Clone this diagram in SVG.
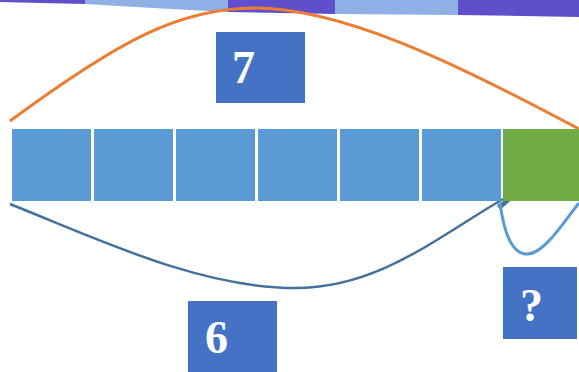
<svg xmlns="http://www.w3.org/2000/svg" width="579" height="372" viewBox="0 0 579 372">
<style>
.cell{fill:#5b9bd5}
.lbl{fill:#4472c4}
.num{font-family:"Liberation Serif","Times New Roman",serif;font-weight:bold;font-size:46px;fill:#ffffff}
.band1{fill:#5f4fcb}
.band2{fill:#8fafe5}
</style>
<g id="band">
<path class="band1" d="M0,0 L85,0 L85,4 L40,3 L0,2 Z"/>
<path class="band2" d="M85,0 L228,0 L228,12 Q150,8 85,4 Z"/>
<path class="band1" d="M228,0 L335,0 L335,14 Q280,13 228,12 Z"/>
<path class="band2" d="M335,0 L458,0 L458,15 L335,14 Z"/>
<path class="band1" d="M458,0 L579,0 L579,17 L458,15 Z"/>
</g>
<g id="connectors">
<path d="M10,121 C120,40 180,8 255,8 C340,8 450,60 579,129" fill="none" stroke="#ed7d31" stroke-width="3"/>
<path d="M10,204 C100,240 200,288 295,288 C380,288 440,235 505,198" fill="none" stroke="#41719c" stroke-width="2.5"/>
<polygon points="497,205 525,188 500,210" fill="#41719c"/>
<path d="M500,203 C505,240 515,255 528,254 C545,253 565,220 579,203" fill="none" stroke="#5b9bd5" stroke-width="3"/>
</g>
<g id="cells">
<rect class="cell" x="12" y="129" width="79" height="72"/>
<rect class="cell" x="94" y="129" width="79" height="72"/>
<rect class="cell" x="176" y="129" width="79" height="72"/>
<rect class="cell" x="258" y="129" width="79" height="72"/>
<rect class="cell" x="340" y="129" width="79" height="72"/>
<rect class="cell" x="422" y="129" width="79" height="72"/>
<rect x="503" y="129" width="79" height="72" fill="#70ad47"/>
</g>
<g id="label7">
<rect class="lbl" x="216" y="32" width="89" height="71"/>
<text class="num" x="232" y="83">7</text>
</g>
<g id="label6">
<rect class="lbl" x="188" y="301" width="89" height="75"/>
<text class="num" x="205" y="353">6</text>
</g>
<g id="labelq">
<rect class="lbl" x="503" y="267" width="74" height="72"/>
<text class="num" x="520" y="321">?</text>
</g>
</svg>
